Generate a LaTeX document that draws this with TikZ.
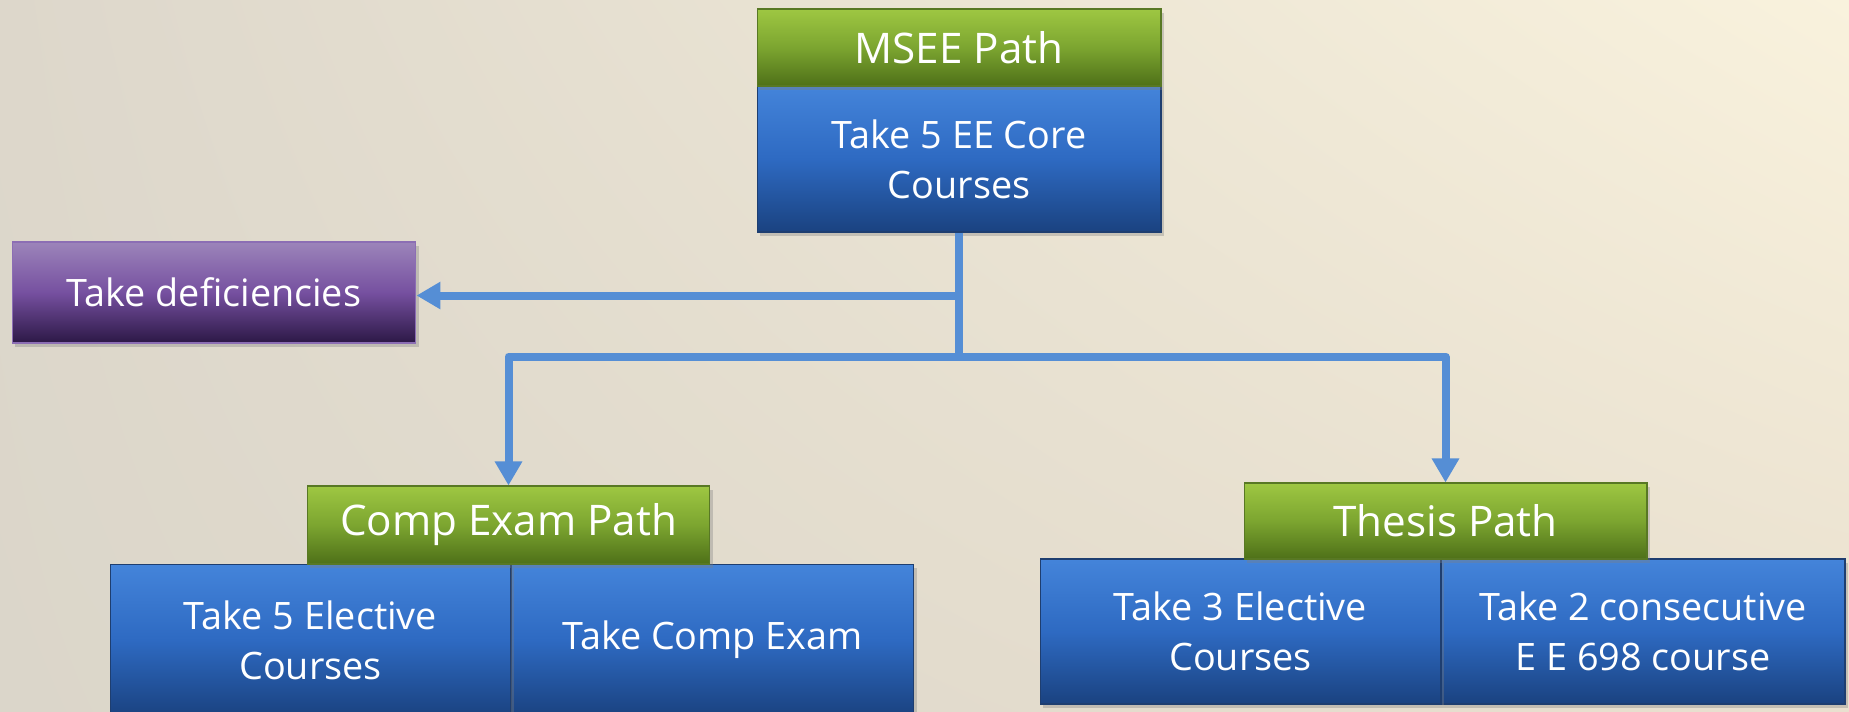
\documentclass[tikz,border=0pt]{standalone}
\usepackage{fontspec}
\setmainfont{Open Sans}
\usetikzlibrary{arrows.meta,shadows,calc,shadings}
\definecolor{arrowblue}{RGB}{85,142,213}
\definecolor{gtop}{RGB}{158,199,66}
\definecolor{gmid}{RGB}{124,165,48}
\definecolor{gbot}{RGB}{78,112,24}
\definecolor{gline}{RGB}{88,120,36}
\definecolor{btop}{RGB}{68,132,218}
\definecolor{bmid}{RGB}{46,106,194}
\definecolor{bbot}{RGB}{26,66,128}
\definecolor{bline}{RGB}{30,62,112}
\definecolor{ptop}{RGB}{156,132,186}
\definecolor{pmid}{RGB}{118,80,160}
\definecolor{pbot}{RGB}{44,24,70}
\definecolor{pline}{RGB}{140,110,180}
\definecolor{bgUL}{RGB}{221,215,203}
\definecolor{bgUR}{RGB}{249,242,221}
\definecolor{bgLL}{RGB}{219,214,202}
\definecolor{bgLR}{RGB}{233,224,207}
\begin{document}
\begin{tikzpicture}[x=0.02cm,y=-0.02cm,
  box/.style={line width=0.6pt, inner sep=0pt, align=center, text=white,
    drop shadow={shadow xshift=1.5pt, shadow yshift=-2.5pt, opacity=0.35}},
  greenbox/.style={box, draw=gline, top color=gtop, bottom color=gbot, middle color=gmid,
    minimum height=1.54cm, font=\fontsize{24}{30}\selectfont},
  bluebox/.style={box, draw=bline, top color=btop, bottom color=bbot, middle color=bmid,
    font=\fontsize{21.5}{28.5}\selectfont},
  purplebox/.style={box, draw=pline, top color=ptop, bottom color=pbot, middle color=pmid,
    font=\fontsize{21.5}{28.5}\selectfont},
  conn/.style={draw=arrowblue, line width=0.16cm, line join=round},
  tip/.style={-{Triangle[length=0.48cm,width=0.52cm]}}
]
\useasboundingbox (0,0) rectangle (1849,711);
\clip (0,0) rectangle (1849,711);
\shade[upper left=bgUL, upper right=bgUR, lower left=bgLL, lower right=bgLR] (0,0) rectangle (1849,711);

% top
\node[bluebox, minimum width=8.08cm, minimum height=2.92cm] (msee) at (959,159) {Take 5 EE Core\\Courses};
\node[greenbox, minimum width=8.08cm] (mseeh) at (959,47.5) {MSEE Path};

% deficiencies
\node[purplebox, minimum width=8.08cm, minimum height=2.02cm] (def) at (214,292.5) {Take deficiencies};

% comp exam path
\node[bluebox, minimum width=8.06cm, minimum height=3.04cm] (c2) at (712.5,640) {Take Comp Exam};
\node[bluebox, minimum width=8.02cm, minimum height=3.04cm] (c1) at (310.5,640) {Take 5 Elective\\Courses};
\node[greenbox, minimum width=8.06cm, minimum height=1.56cm] (comph) at (508.5,525) {Comp Exam Path};

% thesis path
\node[bluebox, minimum width=8.08cm, minimum height=2.9cm] (t2) at (1643,631.5) {Take 2 consecutive\\E E 698 course};
\node[bluebox, minimum width=8.02cm, minimum height=2.9cm] (t1) at (1240.5,631.5) {Take 3 Elective\\Courses};
\node[greenbox, minimum width=8.06cm, minimum height=1.52cm] (thh) at (1445.5,521) {Thesis Path};

% connectors
\coordinate (j) at ($(msee.south)+(0,124)$);
\coordinate (k) at ($(msee.south)+(0,63)$);
\draw[conn] (msee.south) -- (j);
\draw[conn, tip] (k) -- (k -| def.east);
\draw[conn, tip] (j) -| (comph.north);
\draw[conn, tip] (j) -| (thh.north);
\end{tikzpicture}
\end{document}
